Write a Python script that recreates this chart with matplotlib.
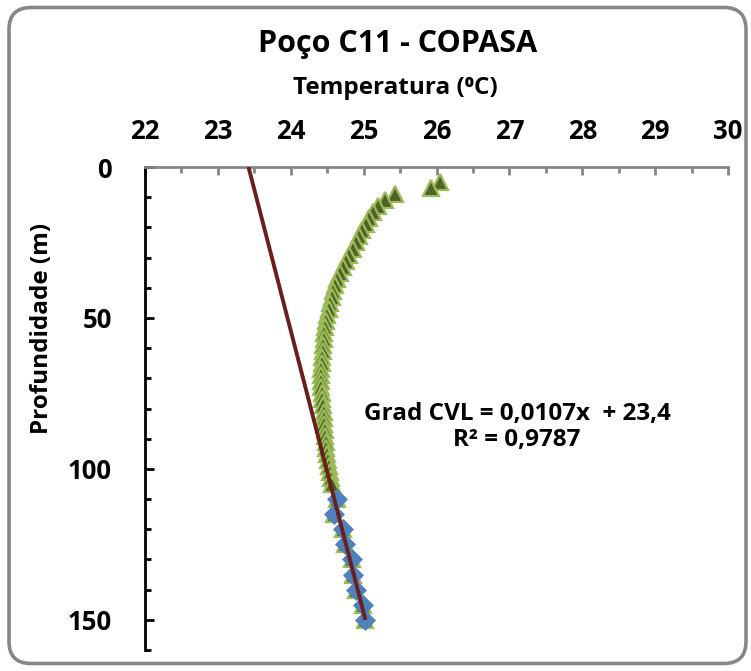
import matplotlib
matplotlib.use("Agg")
import matplotlib.pyplot as plt
from matplotlib.patches import FancyBboxPatch
from matplotlib.ticker import MultipleLocator
import numpy as np

plt.rcParams['font.family'] = ['Open Sans', 'DejaVu Sans']
plt.rcParams['font.weight'] = 'bold'

# ---- data ----
# full temperature log (triangles)
log_depth = [5, 7, 9, 11, 13, 15, 17, 19, 21, 23, 25, 27, 29,
             31, 33, 35, 37, 39, 41, 43, 45, 47, 49,
             51, 53, 55, 57, 59, 61, 63, 65, 67, 69,
             71, 73, 75, 77, 79, 81, 83, 85, 87, 89,
             91, 93, 95, 97, 99, 101, 103, 105,
             110, 115, 120, 125, 130, 135, 140, 145, 150]
log_temp = [26.05, 25.92, 25.43, 25.29, 25.20, 25.13, 25.07, 25.03, 24.98, 24.94, 24.90, 24.85, 24.80,
            24.76, 24.72, 24.68, 24.64, 24.61, 24.58, 24.56, 24.54, 24.52, 24.50,
            24.48, 24.47, 24.46, 24.45, 24.44, 24.44, 24.43, 24.43, 24.42, 24.42,
            24.42, 24.42, 24.43, 24.43, 24.44, 24.45, 24.45, 24.46, 24.47, 24.47,
            24.48, 24.49, 24.50, 24.51, 24.52, 24.54, 24.55, 24.57,
            24.63, 24.60, 24.72, 24.74, 24.84, 24.86, 24.90, 24.99, 25.02]

# deep section used for the gradient fit (diamonds)
cvl_depth = [110, 115, 120, 125, 130, 135, 140, 145, 150]
cvl_temp = [24.63, 24.60, 24.72, 24.74, 24.84, 24.86, 24.90, 24.99, 25.02]

x_ticks = [22, 23, 24, 25, 26, 27, 28, 29, 30]
y_ticks = [0, 50, 100, 150]

title = "Poço C11 - COPASA"
xlabel = "Temperatura (\u2070C)"
ylabel = "Profundidade (m)"
eq_text = "Grad CVL = 0,0107x  + 23,4\nR\u00b2 = 0,9787"

# ---- figure ----
W, H = 751, 671
fig = plt.figure(figsize=(W / 100, H / 100), dpi=100)

frame = FancyBboxPatch((0.09, 0.075), 7.37, 6.56,
                       boxstyle="round,pad=0,rounding_size=0.22",
                       transform=fig.dpi_scale_trans, fill=False,
                       edgecolor='#878787', linewidth=2.6, zorder=0)
fig.patches.append(frame)

ax = fig.add_axes([145 / W, 1 - 650 / H, (728 - 145) / W, (650 - 167) / H])
ax.set_facecolor('none')

ax.plot(log_temp, log_depth, linestyle='none', marker='^', markersize=12,
        markerfacecolor='#4F6228', markeredgecolor='#9BBB59', markeredgewidth=1.6,
        zorder=3, clip_on=False)
ax.plot(cvl_temp, cvl_depth, linestyle='none', marker='D', markersize=10,
        markerfacecolor='#4F81BD', markeredgecolor='#4F81BD', markeredgewidth=0.5,
        zorder=4, clip_on=False)

# linear trend (temperature vs depth) of the deep section
coef = np.polyfit(cvl_depth, cvl_temp, 1)
d_line = np.array([0, 150])
ax.plot(np.polyval(coef, d_line), d_line, color='#6A1E1E', linewidth=2.8, zorder=5,
        solid_capstyle='butt')

ax.set_xlim(22, 30)
ax.set_ylim(160, 0)

ax.xaxis.tick_top()
ax.xaxis.set_major_locator(MultipleLocator(1))
ax.xaxis.set_minor_locator(MultipleLocator(0.5))
ax.set_xticks(x_ticks)
ax.set_xticklabels([str(v) for v in x_ticks], fontsize=18.5, fontweight='bold')
ax.yaxis.set_minor_locator(MultipleLocator(10))
ax.set_yticks(y_ticks)
ax.set_yticklabels([str(v) for v in y_ticks], fontsize=18.5, fontweight='bold')

ax.tick_params(axis='x', which='major', direction='in', length=6, width=2,
               color='#868686', pad=16, top=True, bottom=False)
ax.tick_params(axis='x', which='minor', direction='in', length=4, width=2,
               color='#868686', top=True, bottom=False)
ax.tick_params(axis='y', which='major', direction='in', length=6.5, width=2,
               color='black', pad=24)
ax.tick_params(axis='y', which='minor', direction='in', length=4.5, width=2,
               color='black')

for s in ['right', 'bottom']:
    ax.spines[s].set_visible(False)
ax.spines['top'].set_color('#868686')
ax.spines['top'].set_linewidth(2)
ax.spines['left'].set_color('black')
ax.spines['left'].set_linewidth(2)

fig.text(398 / W, 1 - 44 / H, title, ha='center', va='center',
         fontsize=22, fontweight='bold')
fig.text(395 / W, 1 - 88 / H, xlabel, ha='center', va='center',
         fontsize=17.5, fontweight='bold')
fig.text(42 / W, 1 - 328 / H, ylabel, ha='center', va='center', rotation=90,
         fontsize=17.5, fontweight='bold')
fig.text(517 / W, 1 - 427 / H, eq_text, ha='center', va='center',
         fontsize=17.5, fontweight='bold', linespacing=1.15, multialignment='center')

fig.savefig("out.png", dpi=100)
